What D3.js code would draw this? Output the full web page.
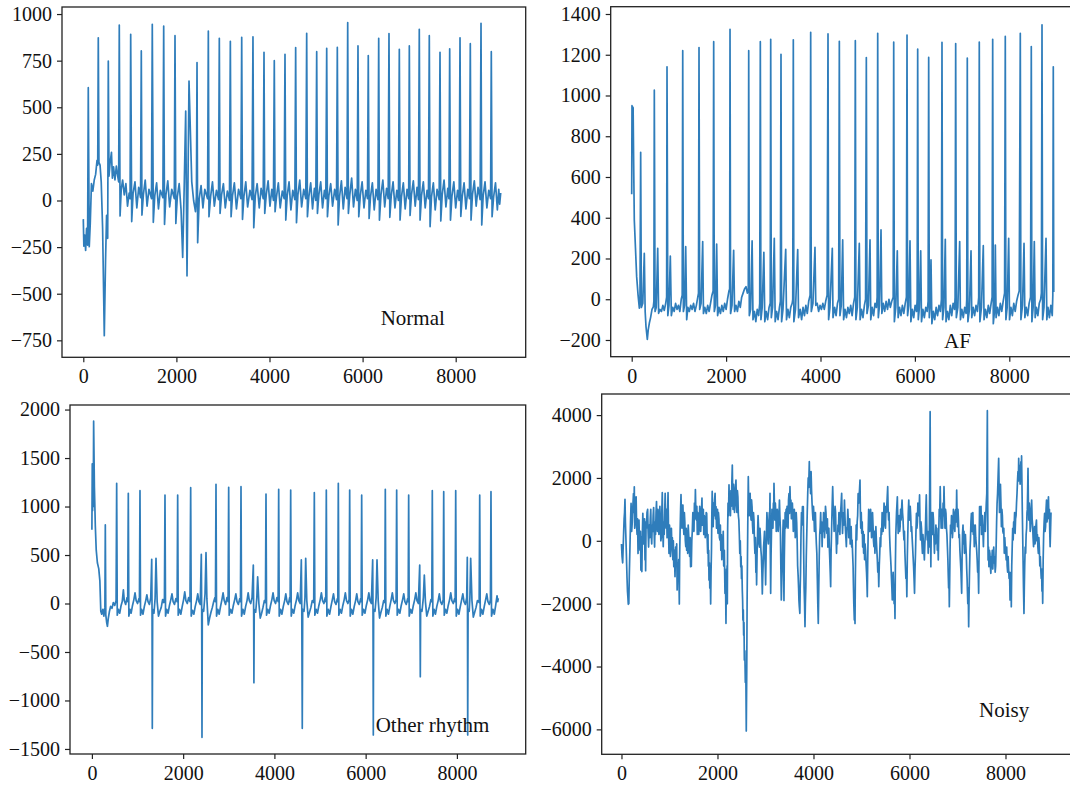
<!DOCTYPE html>
<html><head><meta charset="utf-8">
<script src="https://cdn.jsdelivr.net/npm/d3@7"></script>
<style>body{margin:0;background:#fff}svg{display:block}</style>
</head><body>
<svg id="c" width="1070" height="789"></svg>
<script>
// ---------- DATA ----------
const xTickValues = [0, 2000, 4000, 6000, 8000];
const normalYTicks = [-750, -500, -250, 0, 250, 500, 750, 1000];
const afYTicks = [-200, 0, 200, 400, 600, 800, 1000, 1200, 1400];
const otherYTicks = [-1500, -1000, -500, 0, 500, 1000, 1500, 2000];
const noisyYTicks = [-6000, -4000, -2000, 0, 2000, 4000];
const classNames = ["Normal", "AF", "Other rhythm", "Noisy"];

// [sample index, amplitude]
const normalSignal = [[0,-100],[12,-245],[30,-185],[50,-268],[70,-150],[92,-240],[107,605],[128,-248],[150,-120],[175,90],[205,50],[235,110],[265,140],[295,215],[310,190],[322,873],[336,205],[360,190],[385,100],[415,-150],[451,-725],[478,-320],[500,-80],[524,-203],[537,748],[552,130],[575,200],[605,258],[625,120],[650,180],[680,110],[710,185],[740,130],[760,100],[773,941],[790,-83],[815,60],[845,110],[880,30],[915,90],[950,-30],[985,40],[1005,10],
[1018,891],[1040,-113],[1070,40],[1110,100],[1150,-40],[1190,70],[1230,15],
[1246,802],[1260,-78],[1290,30],[1330,110],[1370,-30],[1410,60],[1465,10],
[1482,945],[1504,-117],[1535,25],[1575,95],[1615,-45],[1655,55],[1710,15],
[1727,936],[1745,-128],[1775,30],[1815,105],[1855,-35],[1900,60],[1955,10],
[1970,884],[1988,-123],[2020,20],[2060,90],[2100,-50],[2135,-305],[2170,100],[2200,480],[2228,-404],[2271,641],[2330,100],[2370,0],[2410,-60],[2430,20],
[2443,740],[2457,-226],[2490,10],[2530,80],[2570,-40],[2610,60],[2670,10],
[2686,909],[2700,-87],[2735,20],[2775,100],[2815,-30],[2860,55],[2905,5],
[2922,870],[2938,-69],[2970,30],[3010,90],[3050,-40],[3095,50],[3140,0],
[3159,854],[3175,-87],[3205,25],[3245,95],[3290,-45],[3335,60],[3385,10],
[3403,875],[3420,-101],[3450,20],[3490,100],[3530,-35],[3580,55],[3625,5],
[3645,878],[3662,-146],[3695,25],[3735,90],[3780,-40],[3820,65],[3865,10],
[3882,795],[3898,-69],[3930,30],[3970,105],[4010,-30],[4050,60],[4085,0],
[4103,750],[4120,-60],[4150,20],[4190,95],[4230,-40],[4275,50],[4315,10],
[4333,784],[4350,-105],[4380,25],[4420,100],[4460,-50],[4500,55],[4545,5],
[4562,820],[4580,-119],[4610,30],[4650,110],[4690,-35],[4735,60],[4780,10],
[4799,897],[4815,-87],[4845,20],[4885,95],[4925,-45],[4965,65],[4995,0],
[5014,798],[5030,-69],[5060,30],[5100,100],[5140,-40],[5180,55],[5210,10],
[5229,816],[5245,-87],[5275,25],[5315,90],[5355,-30],[5400,60],[5440,5],
[5457,821],[5475,-131],[5505,20],[5545,105],[5585,-45],[5625,70],[5665,10],
[5680,954],[5695,-69],[5725,30],[5765,120],[5805,-35],[5845,60],[5885,0],
[5901,829],[5918,-87],[5950,25],[5990,100],[6030,-40],[6070,55],[6105,10],
[6122,777],[6140,-96],[6170,20],[6210,95],[6250,-50],[6290,60],[6330,5],
[6346,870],[6362,-105],[6395,30],[6435,110],[6475,-35],[6515,65],[6550,10],
[6567,895],[6585,-90],[6615,25],[6655,100],[6695,-40],[6735,55],[6770,0],
[6789,811],[6805,-105],[6835,20],[6875,95],[6915,-45],[6955,60],[6990,10],
[7004,829],[7020,-80],[7050,30],[7090,105],[7130,-30],[7170,70],[7200,5],
[7218,918],[7235,-105],[7265,25],[7305,100],[7345,-40],[7385,55],[7415,10],
[7433,884],[7450,-140],[7480,20],[7520,95],[7560,-50],[7600,60],[7645,5],
[7663,795],[7680,-110],[7710,30],[7750,110],[7790,-35],[7830,65],[7855,10],
[7871,814],[7888,-105],[7920,25],[7960,100],[8000,-40],[8040,55],[8075,0],
[8093,873],[8110,-85],[8140,20],[8180,95],[8220,-45],[8260,60],[8295,10],
[8314,841],[8330,-105],[8360,30],[8400,105],[8440,-30],[8480,70],[8525,5],
[8544,950],[8560,-131],[8590,25],[8630,100],[8670,-40],[8710,55],[8750,10],
[8765,798],[8782,-87],[8815,20],[8855,95],[8895,-50],[8925,60],[8945,-20],[8967,40]];

const afSignal = [[0,515],[6,950],[12,820],[18,945],[24,830],[30,940],[40,700],[55,389],[80,250],[105,111],[135,20],[162,-44],[175,-10],[190,721],[205,-40],[235,-20],[267,225],[285,-60],[303,-135],[331,-197],[350,-150],[373,-118],[400,-90],[430,-50],[458,-37],[470,-10],[479,1026],[495,-60],[520,-40],[551,250],[570,-69],[600,-50],[630,-60],[660,-30],[690,-55],[720,-20],[740,10],[748,1141],[765,-80],[790,-30],[818,212],[840,-80],[870,-40],[900,-60],[930,-20],[960,-50],[990,-30],[1020,-60],[1050,0],[1070,20],[1081,1220],[1095,-60],[1120,-30],[1144,258],[1165,-100],[1190,-40],[1220,-60],[1250,-30],[1280,-50],[1310,-20],[1340,-60],[1370,-30],[1400,10],[1415,30],[1426,1235],[1440,-50],[1470,-20],[1504,283],[1520,-70],[1550,-40],[1580,-70],[1610,-30],[1640,-60],[1670,-20],[1700,20],[1725,40],[1737,1264],[1750,-60],[1775,-30],[1800,271],[1820,-80],[1850,-40],[1880,-70],[1910,-30],[1940,-60],[1970,-20],[2000,-50],[2030,0],[2060,40],[2075,50],[2083,1325],
[2095,-70],[2125,-30],[2160,240],[2180,-60],[2210,-30],[2240,-60],[2270,-10],[2300,-40],[2330,10],[2360,30],[2390,50],[2422,62],[2450,30],[2470,40],[2479,1220],[2492,-80],[2520,-50],[2551,286],[2570,-100],[2600,-60],[2630,-110],[2660,-50],[2690,-80],[2712,-20],[2725,1264],[2738,-100],[2765,-40],[2800,230],[2820,-110],[2850,-60],[2880,-100],[2910,-40],[2935,-20],[2945,1276],[2958,-90],[2985,-40],[3021,299],[3040,-110],[3070,-60],[3100,-100],[3130,-40],[3150,-10],[3163,1202],[3176,-110],[3205,-50],[3263,245],[3280,-100],[3310,-50],[3340,-90],[3370,-40],[3400,-20],[3412,0],[3424,1273],[3436,-110],[3470,-50],[3517,244],[3535,-90],[3570,-50],[3600,-100],[3630,-40],[3660,-80],[3690,-30],[3720,-70],[3750,-10],[3780,20],[3792,1310],[3805,-60],[3840,-20],[3883,255],[3900,-30],[3930,-20],[3960,-60],[3990,-30],[4020,-50],[4050,-20],[4080,-50],[4110,-10],[4140,20],[4159,1302],[4172,-100],[4200,-40],[4250,250],[4265,-90],[4300,-40],[4330,-80],[4360,-20],[4385,0],[4399,1266],[4412,-80],[4440,-30],[4470,291],[4490,-100],[4520,-50],[4550,-90],[4580,-40],[4610,-70],[4640,-30],[4670,-80],[4700,-20],[4725,10],[4738,1269],[4750,-100],[4780,-40],[4822,274],[4840,-100],[4870,-50],[4900,-90],[4930,-30],[4955,0],[4971,1186],[4985,-70],[5015,-30],[5049,291],[5065,-100],[5095,-40],[5125,-80],[5155,-20],[5185,-40],[5200,10],[5212,1305],[5225,-90],[5250,-30],[5282,340],[5300,-70],[5330,-20],[5360,-60],[5390,-10],[5420,-50],[5450,0],[5480,-40],[5510,-10],[5540,10],[5551,1262],[5565,-110],[5595,-40],[5627,238],[5645,-90],[5675,-40],[5705,-80],[5735,-30],[5765,-70],[5795,-20],[5820,10],[5833,1297],[5845,-80],[5870,-30],[5896,287],[5915,-110],[5945,-50],[5975,-90],[6005,-30],[6035,-60],[6048,0],[6059,1228],[6072,-100],[6095,-40],[6123,238],[6140,-110],[6170,-50],[6200,-90],[6230,-40],[6260,-60],[6280,-10],[6292,1187],[6305,-90],[6320,-40],[6341,193],[6360,-120],[6390,-60],[6420,-100],[6450,-40],[6480,-80],[6510,-30],[6540,-60],[6562,0],[6574,1261],[6587,-100],[6615,-40],[6644,294],[6660,-110],[6690,-60],[6720,-100],[6750,-30],[6780,-80],[6810,-20],[6840,-50],[6852,10],[6864,1255],[6878,-90],[6910,-40],[6949,283],[6965,-100],[6995,-50],[7025,-90],[7055,-40],[7085,-70],[7098,0],[7110,1184],[7123,-110],[7155,-50],[7189,238],[7205,-90],[7235,-40],[7265,-80],[7295,-30],[7325,-60],[7352,10],[7364,1262],[7377,-110],[7410,-40],[7449,263],[7465,-100],[7495,-50],[7525,-90],[7555,-30],[7585,-70],[7615,-20],[7636,10],[7648,1276],[7661,-120],[7690,-50],[7704,266],[7720,-90],[7750,-40],[7780,-80],[7810,-20],[7840,-60],[7870,-10],[7900,30],[7915,1290],[7928,-100],[7955,-40],[7987,299],[8005,-100],[8035,-40],[8065,-80],[8095,-20],[8125,-60],[8155,-10],[8185,20],[8210,40],[8233,1305],[8246,-100],[8280,-30],[8312,274],[8330,-90],[8360,-40],[8390,-80],[8420,-20],[8450,10],[8466,1240],[8479,-110],[8505,-40],[8530,283],[8548,-90],[8575,-40],[8605,-80],[8635,-20],[8665,0],[8680,30],[8693,1347],[8706,-100],[8735,-40],[8778,299],[8795,-100],[8820,-40],[8850,-90],[8880,-30],[8910,-80],[8922,20],[8932,1141],[8942,35]];

const otherSignal = [[0,760],[8,1440],[15,960],[22,1380],[30,1000],[38,1880],[55,1200],[75,800],[95,550],[120,420],[150,360],[175,230],[195,-80],[215,-110],[240,-60],[262,-130],[285,-40],[294,810],[305,-120],[325,-200],[340,-235],[360,-150],[385,-80],[410,-30],[440,-50],[470,10],[500,-20],[530,30],[543,1240],[556,-120],[580,-60],[610,-100],[640,-20],[665,20],[690,140],[710,30],[740,-10],[770,60],[785,20],[798,1136],[810,-130],[835,-60],[860,-100],[890,-20],[920,40],[945,110],[970,30],[1000,0],[1030,50],[1042,20],[1054,1163],[1066,-120],[1090,-60],[1120,-110],[1150,-30],[1180,30],[1205,90],[1230,20],[1260,-10],[1290,60],[1311,456],[1318,-50],[1324,-1287],[1332,-60],[1360,-100],[1385,50],[1405,466],[1430,20],[1460,-130],[1490,-80],[1520,-40],[1550,40],[1575,10],[1590,60],[1602,1119],[1614,-130],[1640,-60],[1670,-100],[1700,-20],[1730,40],[1755,100],[1780,20],[1810,-10],[1840,50],[1868,20],[1880,1119],[1892,-120],[1920,-60],[1950,-110],[1980,-30],[2010,40],[2035,120],[2060,30],[2090,0],[2120,60],[2150,20],[2165,1194],[2177,-130],[2205,-70],[2235,-110],[2265,-30],[2295,30],[2320,100],[2345,20],[2375,-10],[2398,507],[2406,-40],[2413,-1380],[2420,-60],[2450,-80],[2480,100],[2501,524],[2520,50],[2551,-220],[2580,-150],[2610,-90],[2640,-40],[2670,20],[2695,60],[2708,20],[2720,1229],[2732,-130],[2760,-60],[2790,-110],[2820,-30],[2850,40],[2875,110],[2900,30],[2930,-10],[2960,60],[2985,20],[2998,1198],[3010,-120],[3040,-60],[3070,-100],[3100,-20],[3130,40],[3155,100],[3180,20],[3210,-10],[3240,50],[3256,20],[3268,1205],[3280,-130],[3310,-60],[3340,-110],[3370,-30],[3400,30],[3425,110],[3450,30],[3480,0],[3510,60],[3538,397],[3545,-40],[3551,-817],[3558,-60],[3590,-90],[3615,60],[3633,276],[3660,0],[3690,-150],[3720,-100],[3750,-40],[3780,30],[3804,10],[3816,1129],[3828,-120],[3855,-60],[3885,-100],[3915,-20],[3945,40],[3970,110],[3995,30],[4025,0],[4055,60],[4082,20],[4094,1178],[4106,-130],[4135,-60],[4165,-110],[4195,-30],[4225,30],[4250,100],[4275,20],[4305,-10],[4335,60],[4345,20],[4357,1170],[4369,-130],[4395,-60],[4425,-100],[4455,-20],[4485,40],[4510,110],[4535,30],[4565,0],[4590,449],[4600,-40],[4611,-1287],[4620,-60],[4650,-80],[4670,60],[4686,466],[4710,30],[4740,-140],[4770,-90],[4800,-40],[4830,30],[4862,10],[4875,1143],[4887,-120],[4915,-60],[4945,-100],[4975,-20],[5005,40],[5030,110],[5055,30],[5085,0],[5115,60],[5126,20],[5138,1170],[5150,-130],[5180,-60],[5210,-110],[5240,-30],[5270,40],[5295,100],[5320,20],[5350,-10],[5380,50],[5390,20],[5401,1240],[5413,-120],[5440,-60],[5470,-100],[5500,-20],[5530,40],[5555,110],[5580,30],[5610,0],[5638,40],[5650,1170],[5662,-130],[5690,-60],[5720,-110],[5750,-30],[5780,30],[5805,100],[5830,20],[5860,-10],[5890,50],[5902,20],[5913,1119],[5925,-120],[5955,-60],[5985,-100],[6015,-20],[6045,40],[6070,110],[6095,30],[6125,0],[6154,449],[6161,-40],[6168,-1356],[6175,-60],[6205,-80],[6230,60],[6249,449],[6275,30],[6305,-150],[6335,-90],[6365,-40],[6395,30],[6420,10],[6431,1178],[6443,-130],[6470,-60],[6500,-110],[6530,-30],[6560,40],[6585,110],[6610,30],[6640,0],[6668,40],[6680,1170],[6692,-120],[6720,-60],[6750,-100],[6780,-20],[6810,40],[6835,100],[6860,20],[6890,-10],[6920,50],[6932,20],[6943,1119],[6955,-130],[6985,-60],[7015,-100],[7045,-20],[7075,40],[7100,110],[7125,30],[7155,0],[7185,397],[7191,-40],[7198,-755],[7205,-60],[7235,-80],[7265,60],[7286,294],[7310,20],[7340,-130],[7370,-80],[7400,-30],[7430,40],[7450,20],[7461,1163],[7473,-130],[7500,-60],[7530,-110],[7560,-30],[7590,30],[7615,100],[7640,20],[7670,-10],[7700,40],[7711,1153],[7723,-120],[7750,-60],[7780,-100],[7810,-20],[7840,40],[7865,110],[7890,30],[7920,0],[7950,50],[7962,20],[7974,1163],[7986,-130],[8015,-60],[8045,-110],[8075,-30],[8105,40],[8130,100],[8155,20],[8185,-10],[8215,60],[8228,476],[8232,-40],[8237,-1356],[8245,-60],[8270,-80],[8285,60],[8302,466],[8330,30],[8360,-140],[8390,-90],[8420,-40],[8450,30],[8488,10],[8500,1119],[8512,-130],[8540,-60],[8570,-110],[8600,-30],[8630,40],[8655,100],[8680,20],[8710,-10],[8735,40],[8747,1153],[8759,-130],[8790,-60],[8820,-110],[8850,-20],[8880,80],[8895,20],[8907,54]];

const noisySignal = [[0,-100],[12,-500],[25,-700],[38,-80],[46,300],[55,700],[64,900],[73,1320],[82,600],[90,200],[100,-300],[108,-770],[116,-1200],[125,-1600],[134,-1800],[142,-2020],[148,-1700],[153,-2000],[163,-1100],[175,-300],[188,600],
[200,1190],[212,300],[225,600],[237,1100],[250,1500],[258,900],[267,1720],[276,400],[285,660],[295,1200],[305,1400],[315,500],[325,200],[335,700],[345,-400],[355,300],[365,660],[375,-100],[385,-300],[395,300],[405,-930],[415,100],[425,-980],[435,200],[445,875],[458,-100],[470,200],[480,700],[490,-600],[497,100],[503,-950],[512,600],[520,400],[532,900],[545,1000],[555,300],[565,-200],[578,500],[590,100],[600,700],[610,1000],[620,200],[630,-100],[640,500],[650,300],[660,800],[670,1060],[680,300],[690,-200],[700,600],[710,200],[720,900],[730,1250],[740,500],[750,300],[760,1000],[770,800],[780,200],[790,400],[800,1100],[810,600],[820,0],[830,100],[840,900],[850,1530],[860,400],[870,-187],[880,600],[890,200],[900,900],[910,1510],[920,700],[930,400],[940,1000],[950,100],[960,800],[970,1530],[980,300],[990,-400],[1000,500],[1010,300],[1020,-500],[1030,-300],[1040,400],[1050,-200],[1060,100],[1070,-600],[1080,0],[1090,-820],[1102,-300],[1115,-1140],[1128,-200],[1140,-600],[1150,-100],[1160,-1566],[1170,-700],[1180,-1200],[1192,-600],[1205,-2010],[1212,-500],[1220,200],[1230,900],[1240,1470],[1250,700],[1260,400],[1270,1000],[1280,1140],[1290,500],[1300,200],[1310,900],[1320,600],[1330,0],[1340,-187],[1350,400],[1358,-300],[1370,300],[1380,-400],[1390,500],[1400,200],[1410,-200],[1420,-500],[1430,100],[1440,-823],[1448,-200],[1455,-815],[1465,0],[1475,300],[1487,900],[1500,800],[1510,300],[1520,1200],[1530,700],[1540,1630],[1550,900],[1560,661],[1570,1100],[1580,200],[1590,900],[1600,700],[1610,200],[1620,500],[1630,1100],[1640,900],[1650,300],[1660,600],[1668,1000],[1677,1360],[1686,500],[1695,661],[1705,1000],[1715,200],[1725,800],[1735,661],[1745,100],[1755,300],[1765,900],[1775,873],[1785,100],[1795,-399],[1802,200],[1810,-800],[1817,-300],[1823,-1247],[1832,-700],[1840,-1500],[1849,-900],[1858,-2010],[1866,-1000],[1875,-300],[1882,800],[1890,1570],[1900,800],[1910,449],[1920,1200],[1930,800],[1940,1300],[1950,1510],[1960,700],[1970,1085],[1980,400],[1990,500],[2000,1000],[2010,237],[2020,900],[2030,700],[2040,100],[2052,25],[2060,500],[2070,-300],[2080,200],[2090,-600],[2100,0],[2110,-200],[2120,300],[2130,-800],[2143,-300],[2156,-1670],[2166,-1000],[2177,-2625],[2186,-900],[2195,-1500],[2200,-800],[2205,-2000],[2212,400],[2220,1200],
[2230,800],[2240,1780],[2250,1000],[2260,1298],[2270,800],[2280,1600],[2290,1100],[2300,1900],[2309,2410],[2317,1500],[2325,1000],[2335,1800],[2345,1510],[2355,900],[2365,1200],[2375,1700],[2385,1934],[2395,1200],[2405,900],[2415,1600],[2425,1400],[2435,800],[2445,661],[2455,200],[2465,-400],[2475,0],[2485,-823],[2492,-500],[2500,-1200],[2508,-800],[2517,-1566],[2524,-1900],[2530,-2520],[2538,-2200],[2545,-3000],[2552,-2600],[2560,-3790],[2570,-3500],[2580,-4500],[2590,-4000],[2600,-6052],[2610,-4110],[2617,-2000],[2625,-500],[2633,800],[2642,2040],[2651,1200],[2660,800],[2670,1400],[2680,1510],[2690,900],[2700,661],[2710,1300],[2720,1085],[2730,500],[2740,237],[2750,900],[2760,661],[2770,0],[2780,-400],[2790,100],[2800,-1000],[2808,-600],[2815,-1400],[2825,-400],[2835,200],[2845,800],[2855,449],[2865,-100],[2875,-200],[2885,400],[2895,100],[2905,-300],[2915,-500],[2925,-1000],[2934,-1692],[2942,-1200],[2950,-800],[2960,-200],[2970,25],[2980,300],[2990,-600],[2997,-900],[3003,-1400],[3012,-500],[3020,200],[3030,900],[3040,600],[3050,100],[3060,-100],[3070,500],[3080,900],[3087,600],[3094,1510],[3101,-400],[3108,-1670],[3116,-500],[3125,300],[3135,1000],[3145,800],[3155,400],[3165,1200],[3171,900],[3177,1830],[3186,1200],[3195,661],[3205,1200],[3215,900],[3225,300],[3235,400],[3245,1000],[3255,873],[3265,300],[3275,600],[3283,900],[3291,1298],[3300,800],[3310,400],[3320,-800],[3330,-1883],[3340,-1200],[3350,-600],[3360,200],[3370,661],[3378,-800],[3385,-1900],[3392,-600],[3400,200],[3410,900],[3420,400],[3430,1000],[3441,449],[3450,1100],[3460,873],[3470,400],[3480,1298],[3490,1500],[3500,873],[3510,1722],[3520,1100],[3530,1298],[3540,700],[3550,900],[3560,1200],[3570,873],[3580,300],[3590,400],[3600,1000],[3610,800],[3620,100],[3630,237],[3640,900],[3650,600],[3660,0],[3670,-800],[3680,-1100],[3690,-1500],[3697,-1900],[3705,-2097],[3716,-2310],[3723,-1500],[3730,-1000],[3740,200],[3750,900],[3760,500],[3770,1085],[3779,600],[3788,1085],[3796,-400],[3805,-1500],[3814,-2000],[3823,-2733],[3831,-2000],[3840,-1500],[3850,-500],[3860,200],[3870,900],[3880,1500],[3890,2000],[3900,1700],[3913,2517],[3921,1800],[3930,1934],[3940,1500],[3950,2200],[3960,1600],[3970,1200],[3980,900],[3990,661],[4000,1100],[4010,800],[4020,300],[4030,449],[4040,900],[4050,300],[4060,-100],[4070,-400],[4080,-1200],[4090,-2000],[4100,-2628],[4110,-1500],[4120,-500],[4130,200],[4140,449],[4150,900],[4160,237],[4170,600],[4180,-187],[4190,500],[4200,300],[4210,900],[4220,661],[4230,100],[4240,449],[4250,1100],[4260,900],[4270,400],[4280,237],[4290,700],[4300,-200],[4310,300],[4320,400],[4330,-200],[4340,-600],[4349,-1000],[4358,-1459],[4366,-400],[4375,200],[4387,1000],[4400,1722],[4410,1100],[4420,800],[4430,300],[4440,449],[4450,1100],[4460,900],[4470,200],[4480,-399],[4490,200],[4500,-100],[4510,500],[4520,300],[4530,900],[4540,661],[4550,200],[4560,800],[4573,1100],[4587,1510],[4596,700],[4605,237],[4615,700],[4625,900],[4635,500],[4645,1298],[4655,800],[4665,400],[4675,100],[4685,-187],[4695,400],[4705,449],[4715,1000],[4725,661],[4735,100],[4745,200],[4755,700],[4765,-100],[4775,300],[4785,449],[4795,-200],[4805,25],[4815,-400],[4825,-800],[4832,-1400],[4840,-2000],[4851,-2522],[4858,-1800],[4865,-2628],[4872,-1200],[4880,-300],[4890,500],[4900,25],[4910,600],[4920,800],[4930,1500],[4940,1200],[4955,1500],[4969,1935],[4977,900],[4985,400],[4995,900],[5005,237],[5015,600],[5025,-200],[5035,300],[5045,-399],[5055,200],[5065,-600],[5075,-100],[5085,-300],[5095,-700],[5105,-1000],[5113,-1300],[5121,-1777],[5130,-600],[5140,300],[5150,1000],[5160,873],[5170,300],[5180,400],[5190,1000],[5200,661],[5210,100],[5220,237],[5230,900],[5240,500],[5250,0],[5260,-187],[5270,300],[5280,-399],[5290,100],[5300,449],[5310,0],[5320,-300],[5330,-600],[5340,-1000],[5350,-700],[5360,-1459],[5370,-800],[5380,-400],[5390,100],[5400,-187],[5410,400],[5420,200],[5430,900],[5440,800],[5450,300],[5460,661],[5470,1200],[5480,1000],[5490,500],[5500,400],[5510,1100],[5520,900],[5533,1300],[5546,1722],[5555,1000],[5565,661],[5575,900],[5585,200],[5595,-200],[5605,-500],[5615,-800],[5625,-1200],[5633,-1500],[5642,-1883],[5651,-1400],[5660,-1000],[5670,-1500],[5680,-2000],[5689,-1600],[5698,-2469],[5706,-800],[5715,200],[5730,900],[5747,1400],[5756,700],[5765,237],[5775,600],[5785,800],[5795,300],[5805,449],[5815,1000],[5825,661],[5835,1000],[5845,1298],[5855,900],[5865,700],[5875,300],[5885,25],[5895,300],[5905,-400],[5915,-800],[5925,-1200],[5935,-900],[5945,-1777],[5955,-500],[5965,200],[5975,900],[5985,1298],[5995,700],[6005,661],[6015,1100],[6025,800],[6035,300],[6045,449],[6055,100],[6065,-187],[6075,-500],[6085,-800],[6095,-1200],[6105,-1670],[6115,-900],[6125,-400],[6135,300],[6145,873],[6155,400],[6165,600],[6175,1200],[6185,1000],[6197,800],[6210,1460],[6220,500],[6230,25],[6240,600],[6250,400],[6260,-100],[6270,-399],[6280,200],[6290,-100],[6300,-300],[6310,-611],[6320,-100],[6330,200],[6340,900],[6350,1460],[6360,500],[6370,25],[6380,300],[6390,-399],[6400,100],[6410,-200],[6420,1500],[6430,4108],[6438,1000],[6445,-823],[6452,200],[6460,449],[6470,900],[6480,200],[6490,900],[6500,661],[6510,100],[6520,-399],[6530,200],[6540,-100],[6550,500],[6560,25],[6570,400],[6580,-300],[6590,100],[6600,-611],[6610,300],[6620,1000],[6630,900],[6640,1722],[6650,900],[6660,400],[6670,1000],[6680,873],[6690,400],[6700,1200],[6710,800],[6719,1722],[6730,900],[6740,400],[6750,1000],[6760,873],[6770,400],[6780,200],[6790,-200],[6800,-600],[6808,-1100],[6815,-1500],[6822,-1000],[6830,-2097],[6838,-1200],[6845,-300],[6855,500],[6865,237],[6875,800],[6885,661],[6895,100],[6905,400],[6915,1000],[6925,873],[6935,500],[6945,300],[6955,900],[6965,1000],[6975,600],[6983,1615],[6991,800],[7000,449],[7010,1000],[7020,661],[7030,100],[7040,200],[7050,-300],[7060,-600],[7073,-1000],[7087,-1670],[7096,-500],[7105,237],[7115,500],[7125,-100],[7135,300],[7145,-399],[7155,100],[7165,200],[7175,-200],[7185,-500],[7192,-900],[7200,-1200],[7207,-1600],[7215,-2000],[7224,-1500],[7233,-2733],[7241,-1800],[7250,-1000],[7260,-300],[7270,25],[7280,600],[7290,873],[7300,300],[7310,449],[7320,900],[7330,200],[7340,500],[7350,-187],[7360,200],[7370,500],[7380,100],[7390,-100],[7400,-300],[7410,-600],[7420,-1000],[7430,-800],[7441,-1670],[7450,-200],[7460,1085],[7470,500],[7480,661],[7490,1100],[7500,200],[7510,600],[7520,800],[7530,300],[7540,-187],[7550,500],[7560,400],[7570,900],[7580,300],[7590,800],[7600,1200],[7610,1500],[7622,4140],[7630,1000],[7638,-611],[7646,-200],[7655,-823],[7665,-300],[7675,-400],[7685,-800],[7695,-1035],[7705,-500],[7715,-600],[7725,-300],[7735,-900],[7745,-500],[7755,-200],[7765,-700],[7775,-500],[7785,-1000],[7795,-800],[7805,-200],[7815,600],[7825,1200],[7835,1500],[7845,2000],[7858,2623],[7866,1800],[7875,900],[7885,1500],[7895,1800],[7905,1200],[7915,449],[7925,1000],[7935,800],[7945,300],[7955,237],[7965,400],[7975,-399],[7985,100],[7995,-200],[8005,-300],[8015,-611],[8025,-200],[8035,-800],[8045,-1000],[8055,-500],[8065,-900],[8075,-1200],[8085,-1000],[8095,-1883],[8103,-1200],[8110,-1500],[8116,-1000],[8121,-2097],[8130,-800],[8140,-187],[8150,400],[8160,25],[8170,600],[8180,449],[8190,900],[8200,237],[8210,700],[8220,800],[8230,1200],[8240,1500],[8250,1900],[8260,2200],[8268,1900],[8275,2623],[8283,2000],[8290,2400],[8298,2000],[8305,1800],[8312,2200],[8320,2512],[8328,2100],[8335,2700],[8343,1800],[8350,1000],[8358,200],[8365,-500],[8375,-1500],[8385,-2310],[8392,-1500],[8400,-800],[8410,-200],[8420,-399],[8430,200],[8440,400],[8448,900],[8455,1000],[8462,1600],[8469,2306],[8477,1200],[8485,661],[8495,1200],[8505,900],[8515,300],[8525,449],[8535,1000],[8545,1298],[8555,700],[8565,500],[8575,100],[8585,-187],[8595,200],[8605,449],[8615,-100],[8625,25],[8635,500],[8645,661],[8655,0],[8665,200],[8675,-200],[8685,-399],[8695,100],[8705,-200],[8715,-800],[8725,-500],[8735,-900],[8745,-1200],[8752,-900],[8760,-1600],[8768,-1200],[8775,-1990],[8785,-600],[8795,200],[8805,600],[8815,873],[8825,300],[8835,449],[8845,1000],[8855,1298],[8865,600],[8875,800],[8885,1100],[8895,1400],[8905,700],[8915,1000],[8922,300],[8930,-187],[8940,400],[8948,900]];

// ---------- LAYOUT ----------
const panels = [
  {name: classNames[0], data: normalSignal, yTicks: normalYTicks,
   xDom: [-457.6, 9504], xRng: [62, 525.7], yDom: [-841, 1037.8], yRng: [357.3, 7],
   label: [380.7, 325]},
  {name: classNames[1], data: afSignal, yTicks: afYTicks,
   xDom: [-445, 9392], xRng: [610.7, 1075], yDom: [-282, 1435.8], yRng: [356.7, 6.7],
   label: [944, 348.3]},
  {name: classNames[2], data: otherSignal, yTicks: otherYTicks,
   xDom: [-480, 9508], xRng: [70, 525.7], yDom: [-1552, 2047], yRng: [754, 405],
   label: [375.7, 731.7]},
  {name: classNames[3], data: noisySignal, yTicks: noisyYTicks,
   xDom: [-412, 9448], xRng: [601.7, 1075], yDom: [-6793, 4671], yRng: [754.3, 394],
   label: [979, 716.7]}
];

const svg = d3.select("#c");
svg.append("rect").attr("width", 1070).attr("height", 789).attr("fill", "#fff");
const fmt = d3.format("d");
const FONT = "'Liberation Serif', 'Times New Roman', serif";

panels.forEach((p, i) => {
  const x = d3.scaleLinear().domain(p.xDom).range(p.xRng);
  const y = d3.scaleLinear().domain(p.yDom).range(p.yRng);
  const g = svg.append("g");
  const clipId = "clip" + i;
  g.append("clipPath").attr("id", clipId).append("rect")
    .attr("x", p.xRng[0]).attr("y", p.yRng[1])
    .attr("width", p.xRng[1] - p.xRng[0]).attr("height", p.yRng[0] - p.yRng[1]);

  const line = d3.line().x(d => x(d[0])).y(d => y(d[1]));
  g.append("path").datum(p.data)
    .attr("clip-path", `url(#${clipId})`)
    .attr("fill", "none").attr("stroke", "#2f7dbb")
    .attr("stroke-width", 1.7).attr("stroke-linejoin", "round")
    .attr("d", line);

  g.append("rect")
    .attr("x", p.xRng[0]).attr("y", p.yRng[1])
    .attr("width", p.xRng[1] - p.xRng[0]).attr("height", p.yRng[0] - p.yRng[1])
    .attr("fill", "none").attr("stroke", "#222").attr("stroke-width", 1.3);

  const xAxis = d3.axisBottom(x).tickValues(xTickValues).tickFormat(fmt).tickSize(5).tickPadding(7);
  const yAxis = d3.axisLeft(y).tickValues(p.yTicks).tickFormat(fmt).tickSize(5).tickPadding(5);

  const gx = g.append("g").attr("transform", `translate(0,${p.yRng[0]})`).call(xAxis);
  const gy = g.append("g").attr("transform", `translate(${p.xRng[0]},0)`).call(yAxis);
  [gx, gy].forEach(a => {
    a.select(".domain").remove();
    a.selectAll(".tick line").attr("stroke", "#222").attr("stroke-width", 1.2);
    a.selectAll(".tick text").attr("fill", "#111")
      .style("font-family", FONT).style("font-size", "20px");
  });

  g.append("text").attr("x", p.label[0]).attr("y", p.label[1])
    .style("font-family", FONT).style("font-size", "21px").attr("fill", "#111")
    .text(p.name);
});
</script>
</body></html>
